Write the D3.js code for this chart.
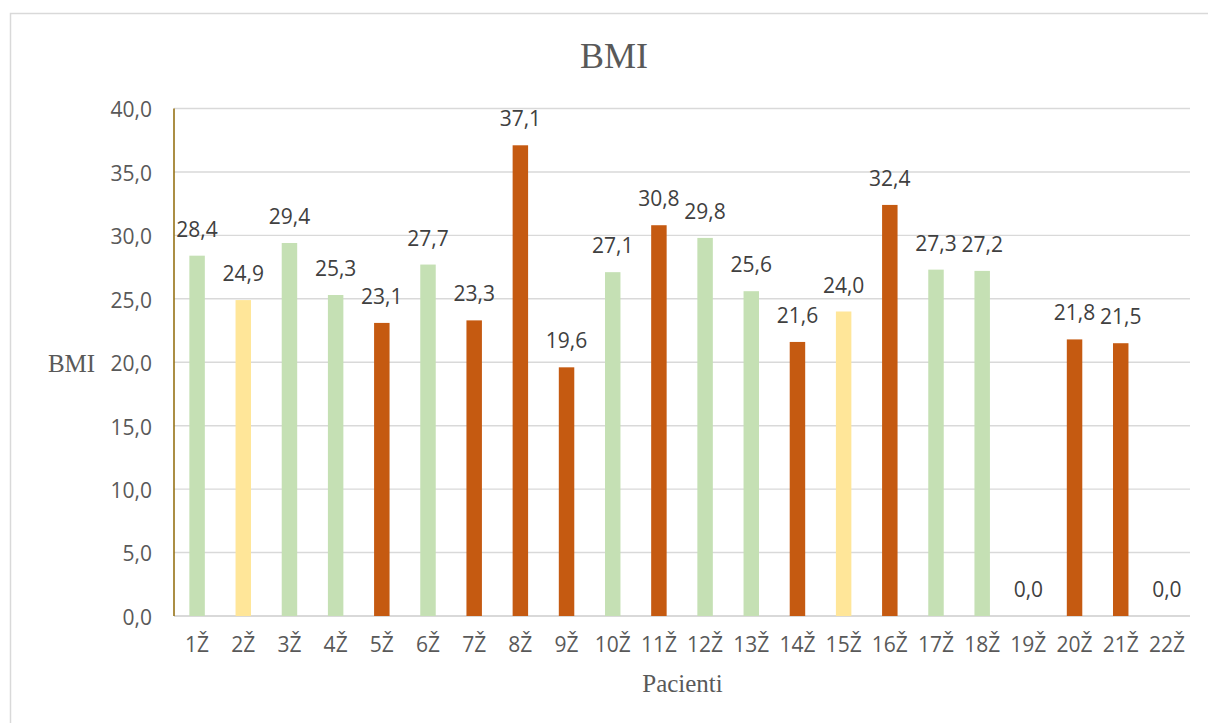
<!DOCTYPE html>
<html>
<head>
<meta charset="utf-8">
<script src="https://cdn.jsdelivr.net/npm/d3@7"></script>
<style>
  html, body { margin: 0; padding: 0; background: #fff; }
  svg { display: block; }
</style>
</head>
<body>
<svg id="chart" width="1208" height="723"></svg>
<script>
const patients = ["1Ž","2Ž","3Ž","4Ž","5Ž","6Ž","7Ž","8Ž","9Ž","10Ž","11Ž","12Ž","13Ž","14Ž","15Ž","16Ž","17Ž","18Ž","19Ž","20Ž","21Ž","22Ž"];
const bmiValues = [28.4,24.9,29.4,25.3,23.1,27.7,23.3,37.1,19.6,27.1,30.8,29.8,25.6,21.6,24.0,32.4,27.3,27.2,0.0,21.8,21.5,0.0];
const groups = ["g","y","g","g","o","g","o","o","o","g","o","g","g","o","y","o","g","g","o","o","o","o"];
const yTicks = [0,5,10,15,20,25,30,35,40];
const groupColors = { g: "#C5E0B4", y: "#FFE699", o: "#C55A11" };

const svg = d3.select("#chart");
const fmt = v => d3.format(".1f")(v).replace(".", ",");

const plotLeft = 174, plotRight = 1190, plotTop = 108.5, plotBottom = 616;

const x = d3.scaleBand().domain(patients).range([plotLeft, plotRight]).paddingInner(0.665).paddingOuter(0.3325);
const y = d3.scaleLinear().domain([0, 40]).range([plotBottom, plotTop]);

// outer frame
svg.append("rect").attr("x", 10.5).attr("y", 13.5).attr("width", 1210).attr("height", 730)
  .attr("fill", "#fff").attr("stroke", "#d9d9d9").attr("stroke-width", 1.5);

// title
svg.append("text").attr("x", 614).attr("y", 68).attr("text-anchor", "middle")
  .attr("font-family", "Liberation Serif, Times New Roman, serif").attr("font-size", 36)
  .attr("fill", "#595959").text("BMI");

// gridlines
svg.append("g").selectAll("line").data(yTicks).join("line")
  .attr("x1", plotLeft).attr("x2", plotRight)
  .attr("y1", d => y(d)).attr("y2", d => y(d))
  .attr("stroke", "#d9d9d9").attr("stroke-width", d => d === 0 ? 2 : 1.4);

// y axis labels
const yAxis = d3.axisLeft(y).tickValues(yTicks).tickFormat(fmt).tickSize(0).tickPadding(22);
const gy = svg.append("g").attr("transform", `translate(${plotLeft},0)`).call(yAxis);
gy.select(".domain").remove();
gy.selectAll("text").attr("font-family", "Open Sans, sans-serif").attr("font-size", 21)
  .attr("fill", "#595959").attr("dy", "0.4em");

// x axis labels
const xAxis = d3.axisBottom(x).tickSize(0).tickPadding(22);
const gx = svg.append("g").attr("transform", `translate(0,${plotBottom})`).call(xAxis);
gx.select(".domain").remove();
gx.selectAll("text").attr("font-family", "Open Sans, sans-serif").attr("font-size", 21)
  .attr("fill", "#595959").attr("dy", "0.69em").attr("y", 22);

// bars
svg.append("g").selectAll("rect").data(bmiValues).join("rect")
  .attr("x", (d, i) => x(patients[i]))
  .attr("width", x.bandwidth())
  .attr("y", d => y(d))
  .attr("height", d => y(0) - y(d))
  .attr("fill", (d, i) => groupColors[groups[i]]);

// y axis line
svg.append("line").attr("x1", plotLeft).attr("x2", plotLeft).attr("y1", plotTop).attr("y2", plotBottom)
  .attr("stroke", "#967216").attr("stroke-width", 1.6);

// data labels
svg.append("g").selectAll("text").data(bmiValues).join("text")
  .attr("x", (d, i) => x(patients[i]) + x.bandwidth() / 2)
  .attr("y", d => y(d) - 19)
  .attr("text-anchor", "middle")
  .attr("font-family", "Open Sans, sans-serif").attr("font-size", 21)
  .attr("fill", "#404040")
  .text(d => fmt(d));

// axis titles
svg.append("text").attr("x", 71.5).attr("y", 371.5).attr("text-anchor", "middle")
  .attr("font-family", "Liberation Serif, Times New Roman, serif").attr("font-size", 25)
  .attr("fill", "#595959").text("BMI");
svg.append("text").attr("x", 682.5).attr("y", 692).attr("text-anchor", "middle")
  .attr("font-family", "Liberation Serif, Times New Roman, serif").attr("font-size", 25)
  .attr("fill", "#595959").text("Pacienti");
</script>
</body>
</html>
